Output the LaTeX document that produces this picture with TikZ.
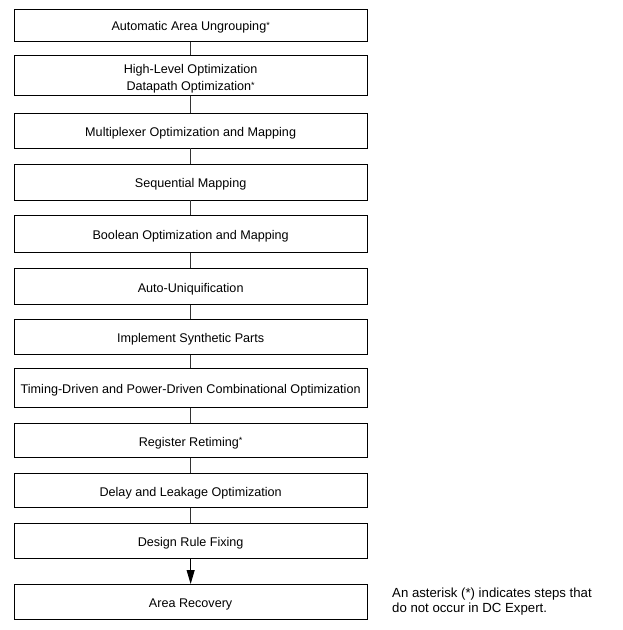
\documentclass[tikz,border=0pt]{standalone}
\usepackage{fontspec}
\setmainfont{Liberation Sans}
\usetikzlibrary{arrows.meta}
\newcommand{\astmark}{{\fontsize{9}{9}\selectfont\raisebox{2.2pt}{*}}}
\begin{document}
\begin{tikzpicture}[x=1pt,y=-1pt,
  stepbox/.style={draw=black,line width=0.9pt,minimum width=352.7pt,inner sep=0pt,
    font=\fontsize{12.6}{17.3}\selectfont,align=center,anchor=north,
    text height=11.2pt,text depth=0pt},
  link/.style={draw=black!80,line width=0.8pt},
  arrowlink/.style={draw=black,line width=0.9pt,-{Triangle[length=14pt,width=8pt]}}]
\useasboundingbox (0,0) rectangle (623,630);
\node[stepbox,minimum height=32.5pt] (b1) at (190.65,8.5) {Automatic Area Ungrouping\astmark};
\node[stepbox,minimum height=40pt,text height=30pt,text depth=0pt] (b2) at (190.65,55) {High-Level Optimization\\Datapath Optimization\astmark};
\node[stepbox,minimum height=35pt] (b3) at (190.65,112.5) {Multiplexer Optimization and Mapping};
\node[stepbox,minimum height=35.5pt] (b4) at (190.65,164) {Sequential Mapping};
\node[stepbox,minimum height=37pt] (b5) at (190.65,215) {Boolean Optimization and Mapping};
\node[stepbox,minimum height=36pt] (b6) at (190.65,268) {Auto-Uniquification};
\node[stepbox,minimum height=35pt] (b7) at (190.65,319) {Implement Synthetic Parts};
\node[stepbox,minimum height=39pt] (b8) at (190.65,368) {Timing-Driven and Power-Driven Combinational Optimization};
\node[stepbox,minimum height=34pt] (b9) at (190.65,423) {Register Retiming\astmark};
\node[stepbox,minimum height=34pt] (b10) at (190.65,473) {Delay and Leakage Optimization};
\node[stepbox,minimum height=35pt] (b11) at (190.65,523) {Design Rule Fixing};
\node[stepbox,minimum height=35pt] (b12) at (190.65,584) {Area Recovery};
\node[anchor=north west,align=left,inner sep=0pt,font=\fontsize{13.2}{15}\selectfont] (note) at (392,588)
  {An asterisk (*) indicates steps that\\do not occur in DC Expert.};
\foreach \a/\b in {b1/b2,b2/b3,b3/b4,b4/b5,b5/b6,b6/b7,b7/b8,b8/b9,b9/b10,b10/b11}
  \draw[link] (\a.south) -- (\b.north);
\draw[arrowlink] (b11.south) -- (b12.north);
\end{tikzpicture}
\end{document}
